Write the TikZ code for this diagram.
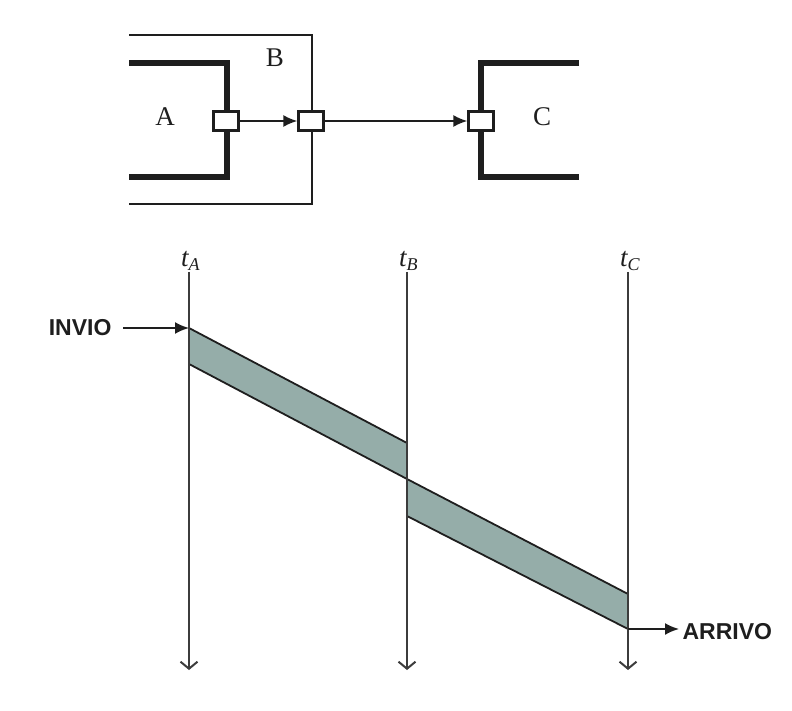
\documentclass[tikz,border=0pt]{standalone}
\usepackage{fontspec}
\setmainfont{Liberation Serif}
\newfontfamily\evsans{Liberation Sans}
\usetikzlibrary{positioning,arrows.meta}
\definecolor{ink}{HTML}{1E1E1E}
\definecolor{tink}{HTML}{3C3C3C}
\definecolor{band}{HTML}{95ADA9}
\tikzset{
  port/.style={rectangle,draw=ink,fill=white,line width=2.2pt,
    minimum width=25pt,minimum height=19pt,inner sep=0pt},
  frame/.style={draw=ink,line width=2.2pt},
  framebold/.style={draw=ink,line width=5.5pt},
  sig/.style={-{Latex[length=14pt,width=12pt]},line width=2pt,draw=ink},
  tline/.style={-{Straight Barb[length=7pt,width=17pt,line width=2pt]},line width=2pt,draw=tink},
  blklbl/.style={font=\fontsize{27}{29}\selectfont,text=ink},
  evlbl/.style={font=\evsans\bfseries\fontsize{23}{25}\selectfont,text=ink},
  tlbl/.style={font=\itshape\fontsize{27}{29}\selectfont,text=ink,inner sep=0pt},
  slab/.style={fill=band,draw=ink,line width=1.8pt,line join=round},
}
\newcommand{\tsub}[1]{t\raisebox{-0.25ex}{\fontsize{18}{19}\selectfont #1}}

\begin{document}
\begin{tikzpicture}[x=1pt,y=-1pt]
  \useasboundingbox (0,0) rectangle (792,711);
  % blocks
  \draw[frame] (129,35) -- (312,35) -- (312,204) -- (129,204);
  \draw[framebold] (129,63) -- (227,63) -- (227,177) -- (129,177);
  \draw[framebold] (579,63) -- (481,63) -- (481,177) -- (579,177);
  \node[blklbl] (lblA) at (165,117) {A};
  \node[blklbl] (lblB) at (275,58) {B};
  \node[blklbl] (lblC) at (542,117) {C};
  \node[port] (pA) at (226,121) {};
  \node[port] (pB) at (311,121) {};
  \node[port] (pC) at (481,121) {};
  \draw[sig] (pA) -- (pB);
  \draw[sig] (pB) -- (pC);
  % time slabs
  \draw[slab] (189,328) -- (407,443) -- (407,479) -- (189,364) -- cycle;
  \draw[slab] (407,479) -- (628,594) -- (628,629) -- (407,516) -- cycle;
  % time axes
  \coordinate (tAtop) at (189,272); \coordinate (tAbot) at (189,670);
  \coordinate (tBtop) at (407,272); \coordinate (tBbot) at (407,670);
  \coordinate (tCtop) at (628,272); \coordinate (tCbot) at (628,670);
  \foreach \t in {A,B,C} {
    \draw[tline] (t\t top) -- (t\t bot);
    \node[tlbl,anchor=base west] (lbl\t) at ([xshift=-8pt,yshift=5pt]t\t top) {\tsub{\t}};
  }
  % send / arrive
  \coordinate (sA) at (189,328);
  \coordinate (sC) at (628,629);
  \node[evlbl,anchor=east] (invio) at (115,328) {INVIO};
  \node[evlbl,anchor=west] (arrivo) at (679,632) {ARRIVO};
  \draw[sig,shorten <=8pt] (invio.east) -- (sA);
  \draw[sig] (sC) -- (sC -| arrivo.west);
\end{tikzpicture}
\end{document}
